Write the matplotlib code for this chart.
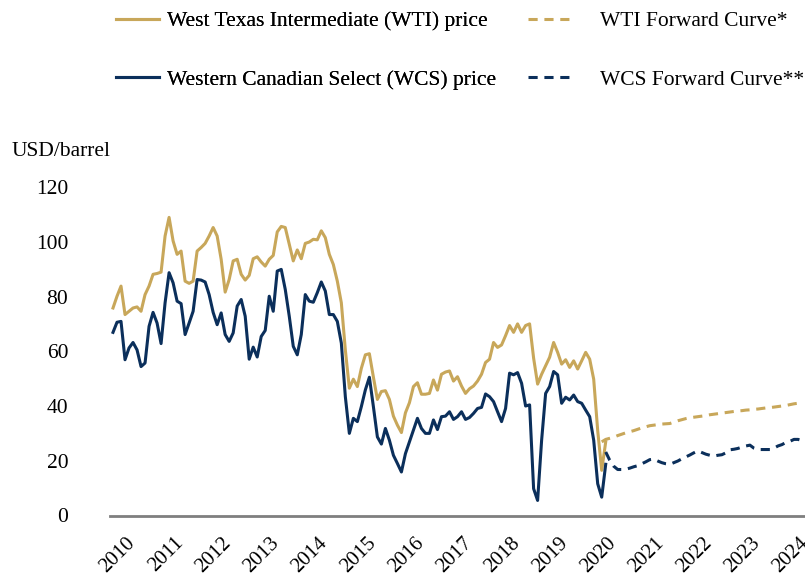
import matplotlib
matplotlib.use('Agg')
import matplotlib.pyplot as plt

# monthly prices, Feb 2010 .. May 2020 (USD/barrel)
wti = [75.8, 80.1, 83.8, 73.4, 74.6, 75.8, 76.2, 74.6, 80.7, 83.8, 88.1, 88.4,
       88.9, 102.1, 108.9, 100.3, 95.4, 96.6, 85.6, 84.8, 85.6, 96.6, 97.9, 99.4,
       102.1, 105.2, 102.1, 93.6, 81.6, 86.2, 93.0, 93.6, 88.1, 86.0, 87.7, 93.8,
       94.5, 92.6, 91.1, 93.6, 95.0, 103.6, 105.6, 105.2, 99.1, 93.0, 97.0, 93.8,
       99.4, 99.9, 100.9, 100.7, 104.0, 101.5, 95.4, 91.7, 85.6, 77.7, 60.5, 46.5,
       49.8, 47.1, 53.8, 58.7, 59.1, 50.6, 42.4, 45.3, 45.6, 42.4, 36.3, 33.0,
       30.3, 37.5, 41.2, 47.1, 48.5, 44.3, 44.3, 44.6, 49.5, 45.8, 51.6, 52.4,
       52.8, 49.1, 50.7, 47.3, 44.6, 46.3, 47.3, 49.1, 51.6, 55.9, 57.1, 63.2,
       61.4, 62.3, 65.7, 69.4, 66.9, 70.0, 66.9, 69.4, 70.0, 57.5, 48.0, 51.6,
       54.7, 57.8, 63.2, 59.6, 55.3, 56.9, 54.1, 56.5, 53.5, 56.5, 59.6, 57.1,
       49.8, 31.0, 16.5, 26.9]

wcs = [66.9, 70.6, 70.9, 56.9, 61.2, 63.2, 60.5, 54.4, 55.7, 69.1, 74.2, 70.3,
       62.8, 77.7, 88.7, 85.0, 78.3, 77.4, 66.1, 70.3, 74.6, 86.2, 86.0, 85.3,
       80.7, 74.2, 69.7, 74.0, 66.1, 63.6, 66.7, 76.5, 78.9, 72.8, 57.1, 61.5,
       57.9, 65.4, 67.6, 80.1, 74.6, 89.3, 89.9, 82.6, 72.8, 61.8, 58.7, 66.1,
       80.7, 78.3, 77.9, 81.4, 85.3, 82.0, 73.4, 73.4, 70.9, 63.0, 43.4, 30.0,
       35.5, 34.3, 39.8, 45.9, 50.5, 39.8, 28.7, 26.1, 31.8, 27.5, 22.0, 19.0,
       15.9, 22.6, 26.9, 31.2, 35.5, 31.8, 30.0, 30.0, 34.9, 31.4, 36.1, 36.3,
       37.9, 35.1, 36.1, 37.9, 35.1, 35.8, 37.3, 39.1, 39.5, 44.4, 43.4, 41.6,
       37.9, 34.3, 39.1, 52.0, 51.4, 52.2, 48.3, 40.0, 40.4, 9.8, 5.5, 27.5,
       44.6, 47.1, 52.6, 51.4, 41.0, 43.2, 42.2, 44.0, 41.6, 41.0, 38.5, 36.1,
       27.5, 11.6, 6.7, 18.7]

# forward curves, WTI from May 2020, WCS from Jun 2020
wti_fwd = [26.9, 27.8, 28.2, 28.6, 29.2, 29.7, 30.2, 30.6, 31.0, 31.5, 32.0, 32.4,
           32.8, 33.0, 33.2, 33.4, 33.5, 33.6, 34.1, 34.6, 35.0, 35.4, 35.7, 35.9,
           36.1, 36.3, 36.5, 36.8, 37.0, 37.2, 37.4, 37.6, 37.8, 38.0, 38.2, 38.3,
           38.5, 38.6, 38.8, 38.9, 39.1, 39.3, 39.4, 39.6, 39.8, 40.0, 40.2, 40.5,
           40.8, 41.0, 41.2]
wcs_fwd = [23.2, 20.2, 18.0, 16.8, 16.8, 16.9, 17.3, 17.8, 18.2, 18.9, 19.6, 20.4,
           20.6, 19.9, 19.3, 18.9, 18.7, 19.3, 19.9, 20.7, 21.4, 22.1, 22.9, 23.6,
           23.0, 22.4, 22.0, 21.7, 22.0, 22.2, 22.9, 24.0, 24.2, 24.5, 25.0, 25.4,
           25.7, 24.6, 24.1, 24.1, 24.1, 24.1, 24.6, 25.4, 25.9, 26.7, 27.1, 27.8,
           27.8, 27.4]

years = list(range(2010, 2025))
yticks = [0, 20, 40, 60, 80, 100, 120]

gold = '#C8A75A'
navy = '#0B2F5B'

# month index, 0 = Jan 2010
x_hist = list(range(1, 1 + len(wti)))
x_wti_fwd = list(range(123, 123 + len(wti_fwd)))
x_wcs_fwd = list(range(124, 124 + len(wcs_fwd)))

plt.rcParams['font.family'] = ['Liberation Serif', 'DejaVu Serif']

fig = plt.figure(figsize=(8.05, 5.82), dpi=100)
ax = fig.add_axes([110 / 805, 1 - 515.5 / 582, 1 - 110 / 805, 328.5 / 582])

dash = (0, (3.0, 2.2))
l1, = ax.plot(x_hist, wti, color=gold, lw=2.2)
l2, = ax.plot(x_hist, wcs, color=navy, lw=2.2)
l3, = ax.plot(x_wti_fwd, wti_fwd, color=gold, lw=2.2, ls=dash)
l4, = ax.plot(x_wcs_fwd, wcs_fwd, color=navy, lw=2.2, ls=dash)

ax.set_xlim(0.25, 173.75)
ax.set_ylim(0, 120)
ax.set_yticks(yticks)
ax.set_yticklabels([str(v) for v in yticks], fontsize=15.5)
ax.set_xticks([(y - 2010) * 12 + 4.2 for y in years])
ax.set_xticklabels([str(y) for y in years], fontsize=15, rotation=45,
                   ha='right', va='top', rotation_mode='anchor')
ax.tick_params(axis='y', length=0, pad=30)
ax.tick_params(axis='x', length=0, pad=13)
for s in ['top', 'right', 'left']:
    ax.spines[s].set_visible(False)
ax.spines['bottom'].set_color('#7F7F7F')
ax.spines['bottom'].set_linewidth(2)

fig.text(12 / 805, 1 - 152 / 582, 'USD/barrel', fontsize=15.5, va='center', ha='left')

leg1 = fig.legend([l1, l2], ['West Texas Intermediate (WTI) price',
                             'Western Canadian Select (WCS) price'],
                  loc='upper left', bbox_to_anchor=(116 / 805, 1 - 11 / 582),
                  frameon=False, fontsize=15.5, handlelength=2.0, handletextpad=0.35,
                  labelspacing=1.8, borderpad=0, borderaxespad=0)
fig.legend([l3, l4], ['WTI Forward Curve*', 'WCS Forward Curve**'],
           loc='upper left', bbox_to_anchor=(528 / 805, 1 - 11 / 582),
           frameon=False, fontsize=15.5, handlelength=2.0, handletextpad=1.35,
           labelspacing=1.8, borderpad=0, borderaxespad=0)
fig.add_artist(leg1)

fig.savefig('out.png', dpi=100)
